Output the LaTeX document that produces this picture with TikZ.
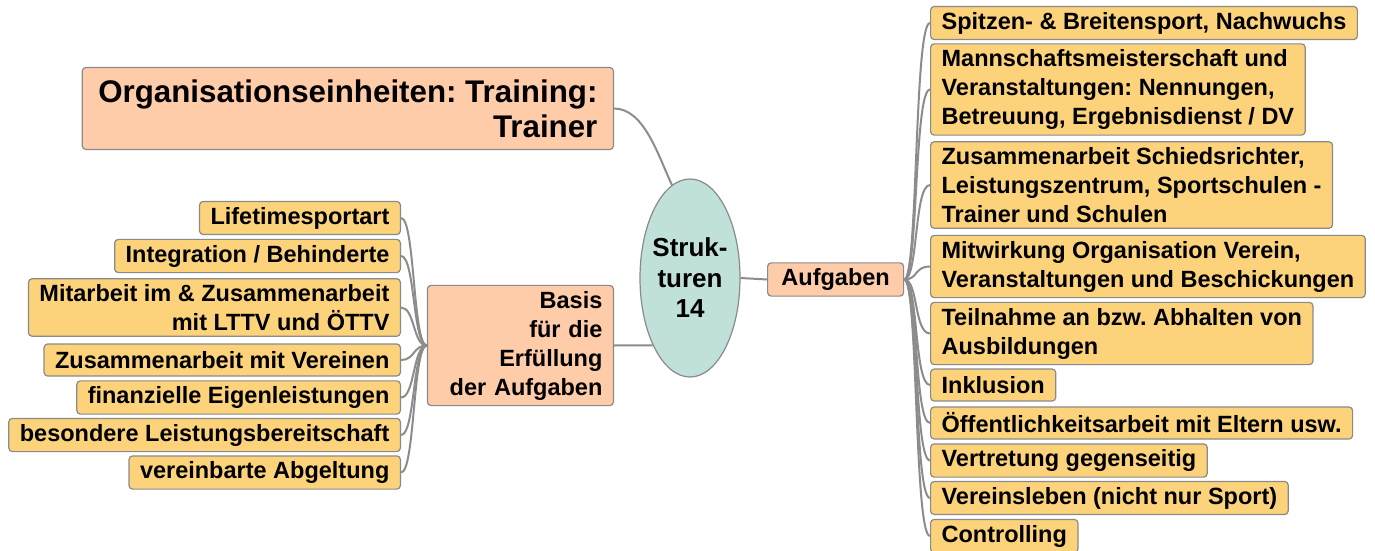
\documentclass[tikz,border=0pt]{standalone}
\usepackage{fontspec}
\setmainfont{Liberation Sans}
\frenchspacing
\usetikzlibrary{shapes.geometric}
\definecolor{leaffill}{HTML}{FCD37A}
\definecolor{branchfill}{HTML}{FFCCAA}
\definecolor{corefill}{HTML}{C0E0DA}
\definecolor{boxline}{HTML}{8A8A8A}
\definecolor{linkgray}{HTML}{8C8C8C}
\tikzset{
  mm box/.style={draw=boxline,line width=.6pt,rounded corners=1.8pt,inner xsep=5.5pt,inner ysep=2.8pt,
    minimum height=16pt,font=\fontsize{11.75}{14.5}\selectfont\bfseries},
  mm leaf/.style={mm box,fill=leaffill},
  mm branch/.style={mm box,fill=branchfill},
  mm title/.style={mm branch,inner xsep=8pt,minimum height=41pt,minimum width=263pt,
    font=\fontsize{15.65}{17.5}\selectfont\bfseries},
  mm core/.style={ellipse,draw=boxline,line width=.6pt,fill=corefill,minimum width=50pt,minimum height=99pt,
    inner xsep=-2pt,inner ysep=0pt,align=center,font=\fontsize{13}{15.25}\selectfont\bfseries},
  mm link/.style={draw=linkgray,line width=1pt}
}
\begin{document}
\begin{tikzpicture}[x=.5pt,y=-.5pt]
  \useasboundingbox (0,0) rectangle (1375,551);
  % centre and main branches
  \node[mm core] (core) at (690,278) {Struk-\\turen\\14};
  \node[mm title,align=right,anchor=east] (title) at (614,108.5) {Organisationseinheiten: Training:\\Trainer};
  \node[mm branch,anchor=east,text width=82pt,align=right] (basis) at (614,345.5) {Basis\\für die\\Erfüllung\\der Aufgaben};
  \node[mm branch,anchor=west,minimum width=68pt] (aufgaben) at (767,279.5) {Aufgaben};
  % left leaves
  \node[mm leaf,anchor=east] (l1) at (401,218) {Lifetimesportart};
  \node[mm leaf,anchor=east] (l2) at (401,256) {Integration / Behinderte};
  \node[mm leaf,anchor=east,align=right] (l3) at (401,307.5) {Mitarbeit im \& Zusammenarbeit\\mit LTTV und ÖTTV};
  \node[mm leaf,anchor=east] (l4) at (401,360) {Zusammenarbeit mit Vereinen};
  \node[mm leaf,anchor=east] (l5) at (401,397.5) {finanzielle Eigenleistungen};
  \node[mm leaf,anchor=east] (l6) at (401,435) {besondere Leistungsbereitschaft};
  \node[mm leaf,anchor=east] (l7) at (401,472.5) {vereinbarte Abgeltung};
  % right leaves
  \node[mm leaf,anchor=west] (r1) at (930,23) {Spitzen- \& Breitensport, Nachwuchs};
  \node[mm leaf,anchor=west,align=left] (r2) at (930,89.5) {Mannschaftsmeisterschaft und\\Veranstaltungen: Nennungen,\\Betreuung, Ergebnisdienst / DV};
  \node[mm leaf,anchor=west,align=left] (r3) at (930,185) {Zusammenarbeit Schiedsrichter,\\Leistungszentrum, Sportschulen -\\Trainer und Schulen};
  \node[mm leaf,anchor=west,align=left] (r4) at (930,266.5) {Mitwirkung Organisation Verein,\\Veranstaltungen und Beschickungen};
  \node[mm leaf,anchor=west,align=left] (r5) at (930,333.5) {Teilnahme an bzw. Abhalten von\\Ausbildungen};
  \node[mm leaf,anchor=west] (r6) at (930,385) {Inklusion};
  \node[mm leaf,anchor=west] (r7) at (930,423) {Öffentlichkeitsarbeit mit Eltern usw.};
  \node[mm leaf,anchor=west] (r8) at (930,460.5) {Vertretung gegenseitig};
  \node[mm leaf,anchor=west] (r9) at (930,498) {Vereinsleben (nicht nur Sport)};
  \node[mm leaf,anchor=west] (r10) at (930,536) {Controlling};
  % connectors
  \draw[mm link] (title.east) .. controls +(30,0) and +(-14,-30) .. (core.101);
  \draw[mm link] (basis.east) -- (core.241);
  \draw[mm link] (core.east) -- (aufgaben.west);
  \foreach \i in {1,...,7}{\draw[mm link] (basis.west) .. controls +(-14,0) and +(14,0) .. (l\i.east);}
  \foreach \i in {1,...,10}{\draw[mm link] (aufgaben.east) .. controls +(14,0) and +(-16,0) .. (r\i.west);}
\end{tikzpicture}
\end{document}
